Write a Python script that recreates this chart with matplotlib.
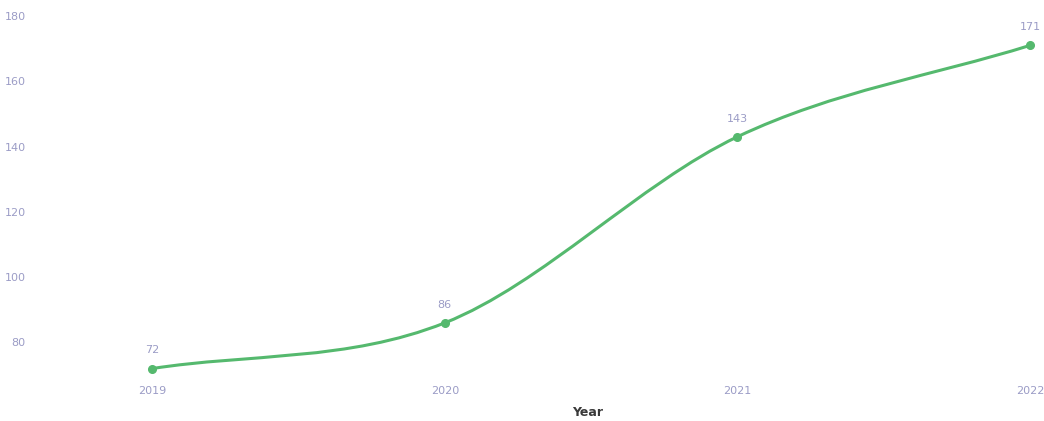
import matplotlib.pyplot as plt
from matplotlib.path import Path
from matplotlib.patches import PathPatch

years = [2019, 2020, 2021, 2022]
values = [72, 86, 143, 171]
y_ticks = [80, 100, 120, 140, 160, 180]

line_color = '#55b96e'
text_color = '#9b9cc6'


def monotone_path(xs, ys):
    # monotone cubic (as in Chart.js), turned into bezier segments
    n = len(xs)
    delta = [(ys[i + 1] - ys[i]) / (xs[i + 1] - xs[i]) for i in range(n - 1)]
    m = [0.0] * n
    m[0] = delta[0]
    m[-1] = delta[-1]
    for i in range(1, n - 1):
        if delta[i - 1] * delta[i] <= 0:
            m[i] = 0.0
        else:
            m[i] = (delta[i - 1] + delta[i]) / 2
    for i in range(n - 1):
        if delta[i] == 0:
            m[i] = m[i + 1] = 0.0
            continue
        a = m[i] / delta[i]
        b = m[i + 1] / delta[i]
        s = a * a + b * b
        if s > 9:
            t = 3 / s ** 0.5
            m[i] = t * a * delta[i]
            m[i + 1] = t * b * delta[i]
    verts = [(xs[0], ys[0])]
    codes = [Path.MOVETO]
    for i in range(n - 1):
        dx = (xs[i + 1] - xs[i]) / 3
        verts += [(xs[i] + dx, ys[i] + m[i] * dx),
                  (xs[i + 1] - dx, ys[i + 1] - m[i + 1] * dx),
                  (xs[i + 1], ys[i + 1])]
        codes += [Path.CURVE4] * 3
    return Path(verts, codes)


fig = plt.figure(figsize=(10.44, 4.21), dpi=100)
ax = fig.add_axes([45 / 1044, 1 - 380 / 421, 995 / 1044, 364 / 421])

ax.add_patch(PathPatch(monotone_path(years, values), facecolor='none',
                       edgecolor=line_color, lw=2.2, capstyle='round'))
ax.plot(years, values, 'o', color=line_color, ms=5.5, zorder=3)

for x, y in zip(years, values):
    ax.annotate(str(y), (x, y), xytext=(0, 9.5), textcoords='offset points',
                ha='center', va='bottom', fontsize=8, color=text_color)

ax.set_xlim(2018.634, 2022.034)
ax.set_ylim(68.5, 180)
ax.set_xticks(years)
ax.set_xticklabels([str(y) for y in years])
ax.set_yticks(y_ticks)
for s in ax.spines.values():
    s.set_visible(False)
ax.tick_params(axis='both', length=0, labelsize=8, colors=text_color)
ax.tick_params(axis='y', pad=14)
ax.tick_params(axis='x', pad=4)

fig.text(588 / 1044, 1 - 412 / 421, 'Year', ha='center', va='center',
         fontsize=9, fontweight='bold', color='#3a3a3a')

fig.savefig('out.png', dpi=100)
